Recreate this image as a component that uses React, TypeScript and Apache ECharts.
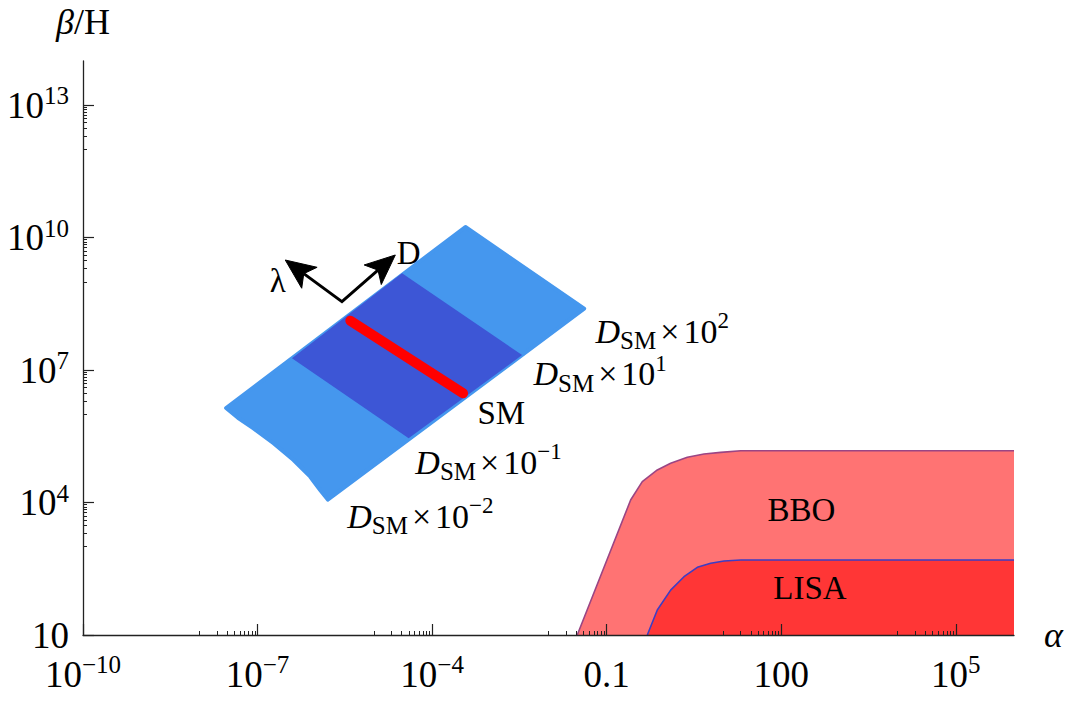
import React, { useEffect, useRef } from 'react';
import * as echarts from 'echarts';

const FONT = '"Liberation Serif", "Times New Roman", serif';

// ---- axes (both logarithmic; values below are powers of ten for the axis range/ticks)
const xRangeExp = [-10, 6];
const yRangeExp = [1, 14];
const xMajorExp = [-10, -7, -4, -1, 2, 5];
const xMajorLabels = ['10^−10', '10^−7', '10^−4', '0.1', '100', '10^5'];
const yMajorExp = [1, 4, 7, 10, 13];
const yMajorLabels = ['10', '10^4', '10^7', '10^10', '10^13'];
const minorMantissas = [1, 2, 3, 4, 5, 6, 7, 8, 9];

// ---- BBO sensitivity region (upper boundary)
const bboAlpha = [0.0312, 0.258, 0.409, 0.741, 1.256, 2.43, 4.7, 9.1, 20.1, 1e6];
const bboBeta = [10, 1.14e4, 2.97e4, 5.46e4, 7.75e4, 1.06e5, 1.26e5, 1.37e5, 1.49e5, 1.49e5];

// ---- LISA sensitivity region (upper boundary)
const lisaAlpha = [0.499, 0.741, 1.256, 2.13, 3.61, 6.12, 10.4, 20.1, 1e6];
const lisaBeta = [10, 36.8, 104, 209, 341, 421, 474, 500, 500];

// ---- model region (light blue, D from D_SM×10^-2 to D_SM×10^2)
const regionAlpha = [2.88e-8, 3.73e-4, 0.041, 1.61e-6, 1.19e-6, 8.04e-7, 4.15e-7, 1.88e-7, 8.51e-8, 4.6e-8];
const regionBeta = [1.38e6, 1.74e10, 2.45e8, 1.17e4, 1.92e4, 3.85e4, 9.18e4, 2.2e5, 4.8e5, 8.3e5];

// ---- inner band (dark blue, D_SM×10^-1 to D_SM×10^1)
const bandAlpha = [3.9e-7, 3.04e-5, 3.52e-3, 3.95e-5];
const bandBeta = [1.85e7, 1.56e9, 2.19e7, 2.85e5];

// ---- SM line (red)
const smAlpha = [3.93e-6, 3.4e-4];
const smBeta = [1.31e8, 2.98e6];

// ---- direction arrows (origin, λ tip, D tip)
const arrowAlpha = [2.82e-6, 2.99e-7, 2.33e-5];
const arrowBeta = [3.54e8, 3.11e9, 4.04e9];

// ---- annotations
const annoText = ['λ', 'D', 'D_SM×10^2', 'D_SM×10^1', 'SM', 'D_SM×10^−1', 'D_SM×10^−2', 'BBO', 'LISA'];
const annoAlpha = [2.22e-7, 3.95e-5, 0.0644, 5.52e-3, 6.01e-4, 5.15e-5, 3.48e-6, 223, 312];
const annoBeta = [1.04e9, 4.49e9, 7.48e7, 8.15e6, 1.04e6, 8.28e4, 4.83e3, 6.78e3, 114];
const annoAlign = ['center', 'center', 'left', 'left', 'left', 'left', 'left', 'center', 'center'];

const LIGHT_BLUE = '#4597ee';
const DARK_BLUE = '#3d56d6';

const L = (v: number) => Math.log10(v);

const tickRich = {
  b: { fontFamily: FONT, fontSize: 37, color: '#000', lineHeight: 44 },
  s: { fontFamily: FONT, fontSize: 25, color: '#000', verticalAlign: 'top', lineHeight: 44 },
};

function powLabel(t: string) {
  if (t.includes('^')) {
    const [b, e] = t.split('^');
    return `{b|${b}}{s|${e}}`;
  }
  return `{b|${t}}`;
}

function minorTicks(majors: number[], lo: number) {
  const out: number[] = [];
  majors.forEach((k) => {
    if (k - 1 < lo) return;
    minorMantissas.forEach((m) => out.push(k - 1 + Math.log10(m)));
  });
  return out;
}

const annoRich = {
  d: { fontFamily: FONT, fontSize: 34, fontStyle: 'italic', color: '#000', lineHeight: 44 },
  sub: { fontFamily: FONT, fontSize: 25, color: '#000', verticalAlign: 'bottom', lineHeight: 44 },
  m: { fontFamily: FONT, fontSize: 34, color: '#000', lineHeight: 44 },
  sp: { fontFamily: FONT, fontSize: 16, color: '#000', lineHeight: 44 },
  sup: { fontFamily: FONT, fontSize: 23, color: '#000', verticalAlign: 'top', lineHeight: 44 },
  n: { fontFamily: FONT, fontSize: 33, color: '#000', lineHeight: 44 },
};

function annoLabel(t: string) {
  if (t.startsWith('D_SM')) {
    const e = t.split('^')[1];
    return `{d|D}{sub|SM}{sp| }{m|×}{sp| }{m|10}{sup|${e}}`;
  }
  return `{n|${t}}`;
}

function arrowParts(from: number[], to: number[]) {
  const dx = to[0] - from[0];
  const dy = to[1] - from[1];
  const len = Math.hypot(dx, dy);
  const ux = dx / len;
  const uy = dy / len;
  const px = -uy;
  const py = ux;
  const HL = 30;
  const HW = 13;
  const NOTCH = 23;
  const base = [to[0] - ux * HL, to[1] - uy * HL];
  const notch = [to[0] - ux * NOTCH, to[1] - uy * NOTCH];
  return {
    notch,
    head: {
      type: 'polygon',
      shape: {
        points: [to, [base[0] + px * HW, base[1] + py * HW], notch, [base[0] - px * HW, base[1] - py * HW]],
      },
      style: { fill: '#000', stroke: '#000', lineWidth: 1, lineJoin: 'miter' },
    },
  };
}

export default function App() {
  const ref = useRef<HTMLDivElement>(null);

  useEffect(() => {
    if (!ref.current) return;
    const chart = echarts.init(ref.current, undefined, { renderer: 'svg' });

    const xMinor = minorTicks(xMajorExp, xRangeExp[0]);
    const yMinor = minorTicks(yMajorExp, yRangeExp[0]);

    const axisLineStyle = { color: '#222', width: 1.3 };

    const option: any = {
      animation: false,
      backgroundColor: '#fff',
      grid: { left: 83, right: 60, top: 61, bottom: 68, containLabel: false },
      xAxis: [
        {
          type: 'value',
          min: xRangeExp[0],
          max: xRangeExp[1],
          position: 'bottom',
          z: 10,
          axisLine: { show: true, onZero: false, lineStyle: axisLineStyle },
          axisTick: { show: true, inside: true, length: 11, customValues: xMajorExp, lineStyle: { color: '#222', width: 1.2 } },
          axisLabel: {
            show: true,
            customValues: xMajorExp,
            margin: 17,
            formatter: (v: number) => {
              const i = xMajorExp.findIndex((k) => Math.abs(k - v) < 1e-6);
              return i >= 0 ? powLabel(xMajorLabels[i]) : '';
            },
            rich: tickRich,
          },
          splitLine: { show: false },
          name: 'α',
          nameLocation: 'end',
          nameGap: 30,
          nameTextStyle: { fontFamily: FONT, fontSize: 36, fontStyle: 'italic', color: '#000', padding: [8, 0, 0, 0] },
        },
        {
          type: 'value',
          min: xRangeExp[0],
          max: xRangeExp[1],
          position: 'bottom',
          z: 10,
          axisLine: { show: false, onZero: false },
          axisTick: { show: true, inside: true, length: 4, customValues: xMinor, lineStyle: { color: '#222', width: 1 } },
          axisLabel: { show: false },
          splitLine: { show: false },
        },
      ],
      yAxis: [
        {
          type: 'value',
          min: yRangeExp[0],
          max: yRangeExp[1],
          position: 'left',
          z: 10,
          axisLine: { show: true, onZero: false, lineStyle: axisLineStyle },
          axisTick: { show: true, inside: true, length: 11, customValues: yMajorExp, lineStyle: { color: '#222', width: 1.2 } },
          axisLabel: {
            show: true,
            customValues: yMajorExp,
            margin: 14,
            formatter: (v: number) => {
              const i = yMajorExp.findIndex((k) => Math.abs(k - v) < 1e-6);
              return i >= 0 ? powLabel(yMajorLabels[i]) : '';
            },
            rich: tickRich,
          },
          splitLine: { show: false },
          name: '{i|β}{n|/H}',
          nameLocation: 'end',
          nameGap: 21,
          nameTextStyle: {
            rich: {
              i: { fontFamily: FONT, fontSize: 36, fontStyle: 'italic', color: '#000' },
              n: { fontFamily: FONT, fontSize: 36, color: '#000' },
            },
          },
        },
        {
          type: 'value',
          min: yRangeExp[0],
          max: yRangeExp[1],
          position: 'left',
          z: 10,
          axisLine: { show: false, onZero: false },
          axisTick: { show: true, inside: true, length: 4, customValues: yMinor, lineStyle: { color: '#222', width: 1 } },
          axisLabel: { show: false },
          splitLine: { show: false },
        },
      ],
      series: [
        {
          name: 'BBO',
          type: 'line',
          xAxisIndex: 0,
          yAxisIndex: 0,
          data: bboAlpha.map((a, i) => [L(a), L(bboBeta[i])]),
          symbol: 'none',
          lineStyle: { color: '#9b4584', width: 1.6 },
          areaStyle: { color: '#ff7373', opacity: 1, origin: 'start' },
          z: 2,
        },
        {
          name: 'LISA',
          type: 'line',
          xAxisIndex: 0,
          yAxisIndex: 0,
          data: lisaAlpha.map((a, i) => [L(a), L(lisaBeta[i])]),
          symbol: 'none',
          lineStyle: { color: '#3d3dc4', width: 1.6 },
          areaStyle: { color: '#ff3636', opacity: 1, origin: 'start' },
          z: 3,
        },
        {
          name: 'model',
          type: 'custom',
          xAxisIndex: 0,
          yAxisIndex: 0,
          data: [[L(smAlpha[0]), L(smBeta[0])]],
          z: 4,
          renderItem: (_params: any, api: any) => {
            const pt = (a: number, b: number) => api.coord([L(a), L(b)]);
            const outer = regionAlpha.map((a, i) => pt(a, regionBeta[i]));
            const band = bandAlpha.map((a, i) => pt(a, bandBeta[i]));
            const red = smAlpha.map((a, i) => pt(a, smBeta[i]));
            const origin = pt(arrowAlpha[0], arrowBeta[0]);
            const lam = arrowParts(origin, pt(arrowAlpha[1], arrowBeta[1]));
            const dee = arrowParts(origin, pt(arrowAlpha[2], arrowBeta[2]));
            return {
              type: 'group',
              children: [
                { type: 'polygon', shape: { points: outer }, style: { fill: LIGHT_BLUE, stroke: LIGHT_BLUE, lineWidth: 4, lineJoin: 'round' } },
                { type: 'polygon', shape: { points: band }, style: { fill: DARK_BLUE } },
                { type: 'polyline', shape: { points: red }, style: { stroke: '#ff0000', lineWidth: 10, lineCap: 'round', fill: null } },
                {
                  type: 'polyline',
                  shape: { points: [lam.notch, origin, dee.notch] },
                  style: { stroke: '#000', lineWidth: 3, fill: null, lineJoin: 'miter' },
                },
                lam.head,
                dee.head,
              ],
            };
          },
        },
        {
          name: 'labels',
          type: 'custom',
          xAxisIndex: 0,
          yAxisIndex: 0,
          data: annoText.map((_t, i) => [L(annoAlpha[i]), L(annoBeta[i]), i]),
          z: 6,
          renderItem: (params: any, api: any) => {
            const i = params.dataIndex;
            const p = api.coord([L(annoAlpha[i]), L(annoBeta[i])]);
            return {
              type: 'text',
              x: p[0],
              y: p[1],
              style: {
                text: annoLabel(annoText[i]),
                rich: annoRich,
                align: annoAlign[i],
                verticalAlign: 'middle',
                fill: '#000',
                fontFamily: FONT,
                fontSize: 33,
              },
            };
          },
        },
      ],
    };

    chart.setOption(option);
    return () => chart.dispose();
  }, []);

  return (
    <div
      ref={ref}
      style={{ position: 'absolute', left: 0, top: 0, width: 1074, height: 703, background: '#fff' }}
    />
  );
}
